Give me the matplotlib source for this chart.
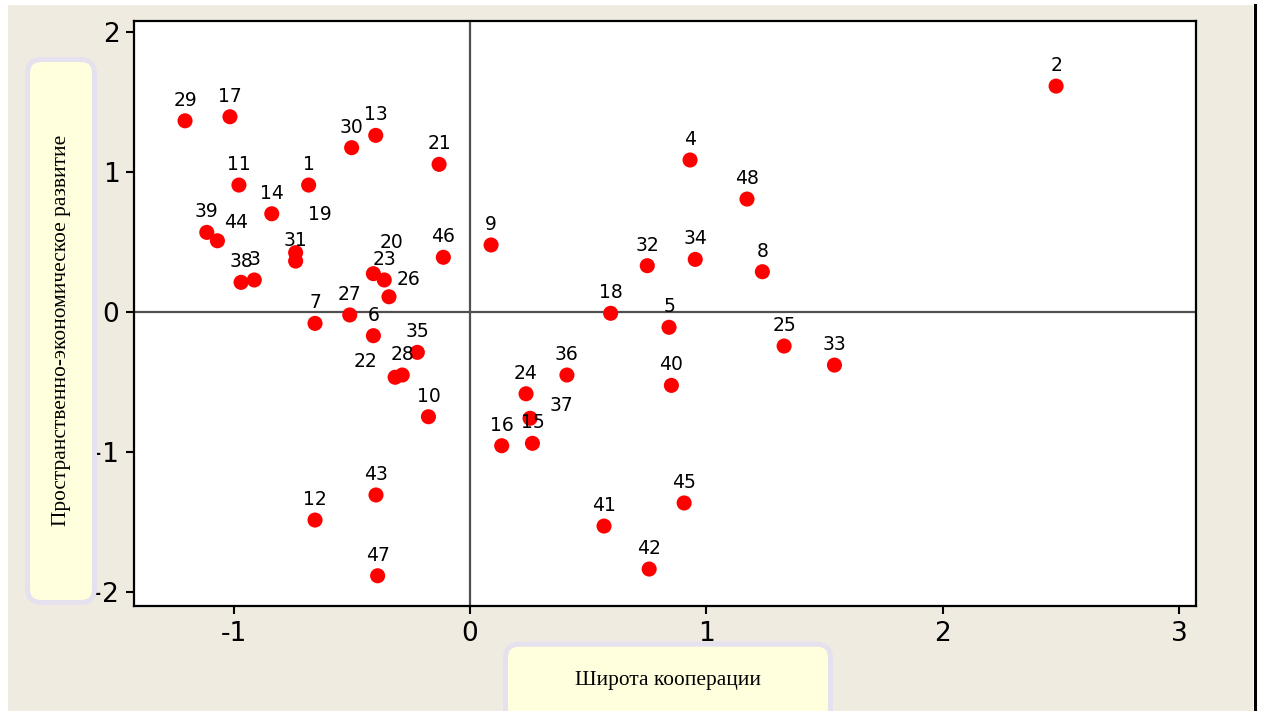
import matplotlib
matplotlib.use("Agg")
import matplotlib.pyplot as plt
from matplotlib.patches import FancyBboxPatch, Rectangle
from matplotlib.lines import Line2D
from matplotlib.transforms import IdentityTransform

plt.rcParams['axes.unicode_minus'] = False
plt.rcParams['font.family'] = ['DejaVu Sans']

# ---- data ----
ids = [1, 2, 3, 4, 5, 6, 7, 8, 9, 10, 11, 12, 13, 14, 15, 16, 17, 18, 19, 20,
       21, 22, 23, 24, 25, 26, 27, 28, 29, 30, 31, 32, 33, 34, 35, 36, 37, 38,
       39, 40, 41, 42, 43, 44, 45, 46, 47, 48]
x_vals = [-0.683, 2.480, -0.913, 0.931, 0.842, -0.409, -0.656, 1.237, 0.089, -0.176,
          -0.978, -0.656, -0.399, -0.839, 0.264, 0.134, -1.016, 0.595, -0.738, -0.409,
          -0.131, -0.317, -0.363, 0.237, 1.329, -0.343, -0.509, -0.287, -1.206, -0.501,
          -0.738, 0.750, 1.542, 0.953, -0.223, 0.410, 0.254, -0.969, -1.114, 0.852,
          0.567, 0.758, -0.398, -1.069, 0.906, -0.113, -0.391, 1.172]
y_vals = [0.907, 1.614, 0.229, 1.086, -0.109, -0.169, -0.081, 0.288, 0.479, -0.748,
          0.907, -1.486, 1.262, 0.702, -0.938, -0.955, 1.395, -0.009, 0.424, 0.274,
          1.055, -0.466, 0.229, -0.584, -0.243, 0.109, -0.021, -0.450, 1.366, 1.174,
          0.364, 0.331, -0.379, 0.376, -0.288, -0.450, -0.759, 0.212, 0.569, -0.524,
          -1.529, -1.836, -1.307, 0.509, -1.364, 0.391, -1.884, 0.807]
x_ticks = [-1, 0, 1, 2, 3]
x_ticklabels = ["-1", "0", "1", "2", "3"]
y_ticks = [-2, -1, 0, 1, 2]
y_ticklabels = ["\u22122", "\u22121", "0", "1", "2"]
x_title = "Широта кооперации"
y_title = "Пространственно-экономическое развитие"

# label offsets (pixels) for labels not placed straight above their point
label_shift = {19: (24, 38), 44: (19, 18), 20: (18, 31), 26: (20, 17),
               22: (-30, 16), 37: (31, 13)}

W, H = 1261, 711
fig = plt.figure(figsize=(W / 100, H / 100), dpi=100)
fig.patch.set_facecolor("white")

# beige backdrop
fig.patches.append(Rectangle((8 / W, 0), (1253 - 8) / W, (H - 5) / H,
                             transform=fig.transFigure, facecolor="#EFEBE1",
                             edgecolor="none", zorder=-10))
fig.lines.append(Line2D([1254.5 / W, 1254.5 / W], [0, (H - 5) / H],
                        transform=fig.transFigure, color="black", lw=2.2))

ax = fig.add_axes([134 / W, 1 - 606 / H, (1196 - 134) / W, (606 - 21) / H])
ax.set_facecolor("white")
ax.set_xlim(-1.422, 3.072)
ax.set_ylim(-2.1, 2.079)
ax.set_xticks(x_ticks)
ax.set_xticklabels(x_ticklabels)
ax.set_yticks(y_ticks)
ax.set_yticklabels(y_ticklabels)
ax.tick_params(axis="both", length=6, width=1.5, labelsize=19, pad=4.5, color="black")
for s in ax.spines.values():
    s.set_linewidth(1.6)
    s.set_color("black")

ax.axhline(0, color="#505050", lw=1.6, zorder=1)
ax.axvline(0, color="#505050", lw=1.6, zorder=1)

ax.scatter(x_vals, y_vals, s=118, color="#FF0000", edgecolors="none", zorder=3)
for n, xv, yv in zip(ids, x_vals, y_vals):
    dx, dy = label_shift.get(n, (0, 20.5))
    ax.annotate(str(n), (xv, yv), xytext=(dx, dy), textcoords="offset pixels",
                ha="center", va="center", fontsize=13.5, color="black", zorder=4)

# label boxes (display pixel coordinates)
idt = IdentityTransform()
ybox = FancyBboxPatch((27.5, H - 602.5), 67, 543,
                      boxstyle="round,pad=0,rounding_size=14",
                      facecolor="#FFFFDE", edgecolor="#E6E1EE", lw=3.6,
                      transform=idt, zorder=5)
xbox = FancyBboxPatch((505.5, -20), 325, H - 644.2 + 20,
                      boxstyle="round,pad=0,rounding_size=14",
                      facecolor="#FFFFDE", edgecolor="#E6E1EE", lw=3.6,
                      transform=idt, zorder=5)
fig.patches.extend([ybox, xbox])

fig.text(668 / W, 1 - 680 / H, x_title, ha="center", va="center",
         fontsize=15.4, family="Liberation Serif", zorder=6)
fig.text(62 / W, 1 - 330 / H, y_title, ha="center", va="center", rotation=90,
         fontsize=15.4, family="Liberation Serif", zorder=6)

fig.savefig("out.png", dpi=100)
